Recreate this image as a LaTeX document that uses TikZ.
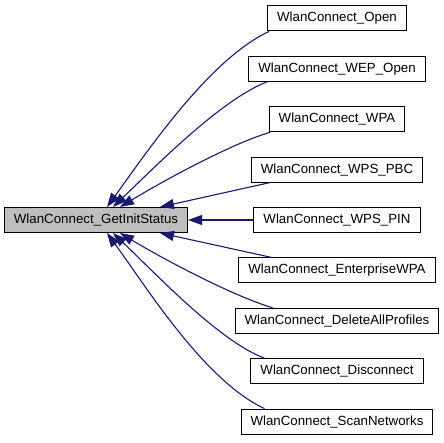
\documentclass[tikz,border=0pt]{standalone}
\usepackage{fontspec}
\setmainfont{Liberation Sans}
\usetikzlibrary{arrows.meta}
\definecolor{edgeblue}{RGB}{25,25,112}
\definecolor{boxgray}{RGB}{191,191,191}
\tikzset{
  fnbox/.style={draw=black, line width=1pt, fill=white, minimum height=25pt,
    inner xsep=9.5pt, inner ysep=0pt, font=\fontsize{13.3}{15}\selectfont},
  callarrow/.style={draw=edgeblue, line width=1.1pt, -{Triangle[length=14pt,width=10pt]}}
}

\begin{document}
\begin{tikzpicture}[x=1pt, y=1pt]
\useasboundingbox (0,0) rectangle (444,443);

% Function that is called
\node[fnbox, fill=boxgray] (getinit) at (96,223) {WlanConnect\_GetInitStatus};

% Callers, one column on the right
\node[fnbox] (open) at (337,424.6) {WlanConnect\_Open};
\node[fnbox] (wepopen) at (337,374.2) {WlanConnect\_WEP\_Open};
\node[fnbox] (wpa) at (337,323.8) {WlanConnect\_WPA};
\node[fnbox] (wpspbc) at (337,273.4) {WlanConnect\_WPS\_PBC};
\node[fnbox] (wpspin) at (337,223) {WlanConnect\_WPS\_PIN};
\node[fnbox] (entwpa) at (337,172.6) {WlanConnect\_EnterpriseWPA};
\node[fnbox] (delall) at (337,122.2) {WlanConnect\_DeleteAllProfiles};
\node[fnbox] (disconn) at (337,71.8) {WlanConnect\_Disconnect};
\node[fnbox] (scannet) at (337,21.4) {WlanConnect\_ScanNetworks};

% Upper calls
\draw[callarrow] ([xshift=2pt]open.south west) .. controls +(-60,-28) and +(40,55) .. ([xshift=11pt]getinit.north);
\draw[callarrow] ([xshift=19pt]wepopen.south west) .. controls +(-45,-17) and +(45,43) .. ([xshift=17pt]getinit.north);
\draw[callarrow] ([xshift=1.5pt]wpa.south west) .. controls +(-40,-12) and +(45,27) .. ([xshift=24pt]getinit.north);
\draw[callarrow] ([xshift=19pt]wpspbc.south west) -- ([xshift=64pt]getinit.north);

% Straight call
\draw[callarrow] (wpspin.west) -- (getinit.east);

% Lower calls
\draw[callarrow] ([xshift=33pt]entwpa.north west) -- ([xshift=64pt]getinit.south);
\draw[callarrow] ([xshift=38pt]delall.north west) .. controls +(-40,12) and +(45,-27) .. ([xshift=24pt]getinit.south);
\draw[callarrow] ([xshift=14pt]disconn.north west) .. controls +(-45,17) and +(45,-43) .. ([xshift=17pt]getinit.south);
\draw[callarrow] ([xshift=24pt]scannet.north west) .. controls +(-60,28) and +(40,-55) .. ([xshift=11pt]getinit.south);

\end{tikzpicture}
\end{document}
